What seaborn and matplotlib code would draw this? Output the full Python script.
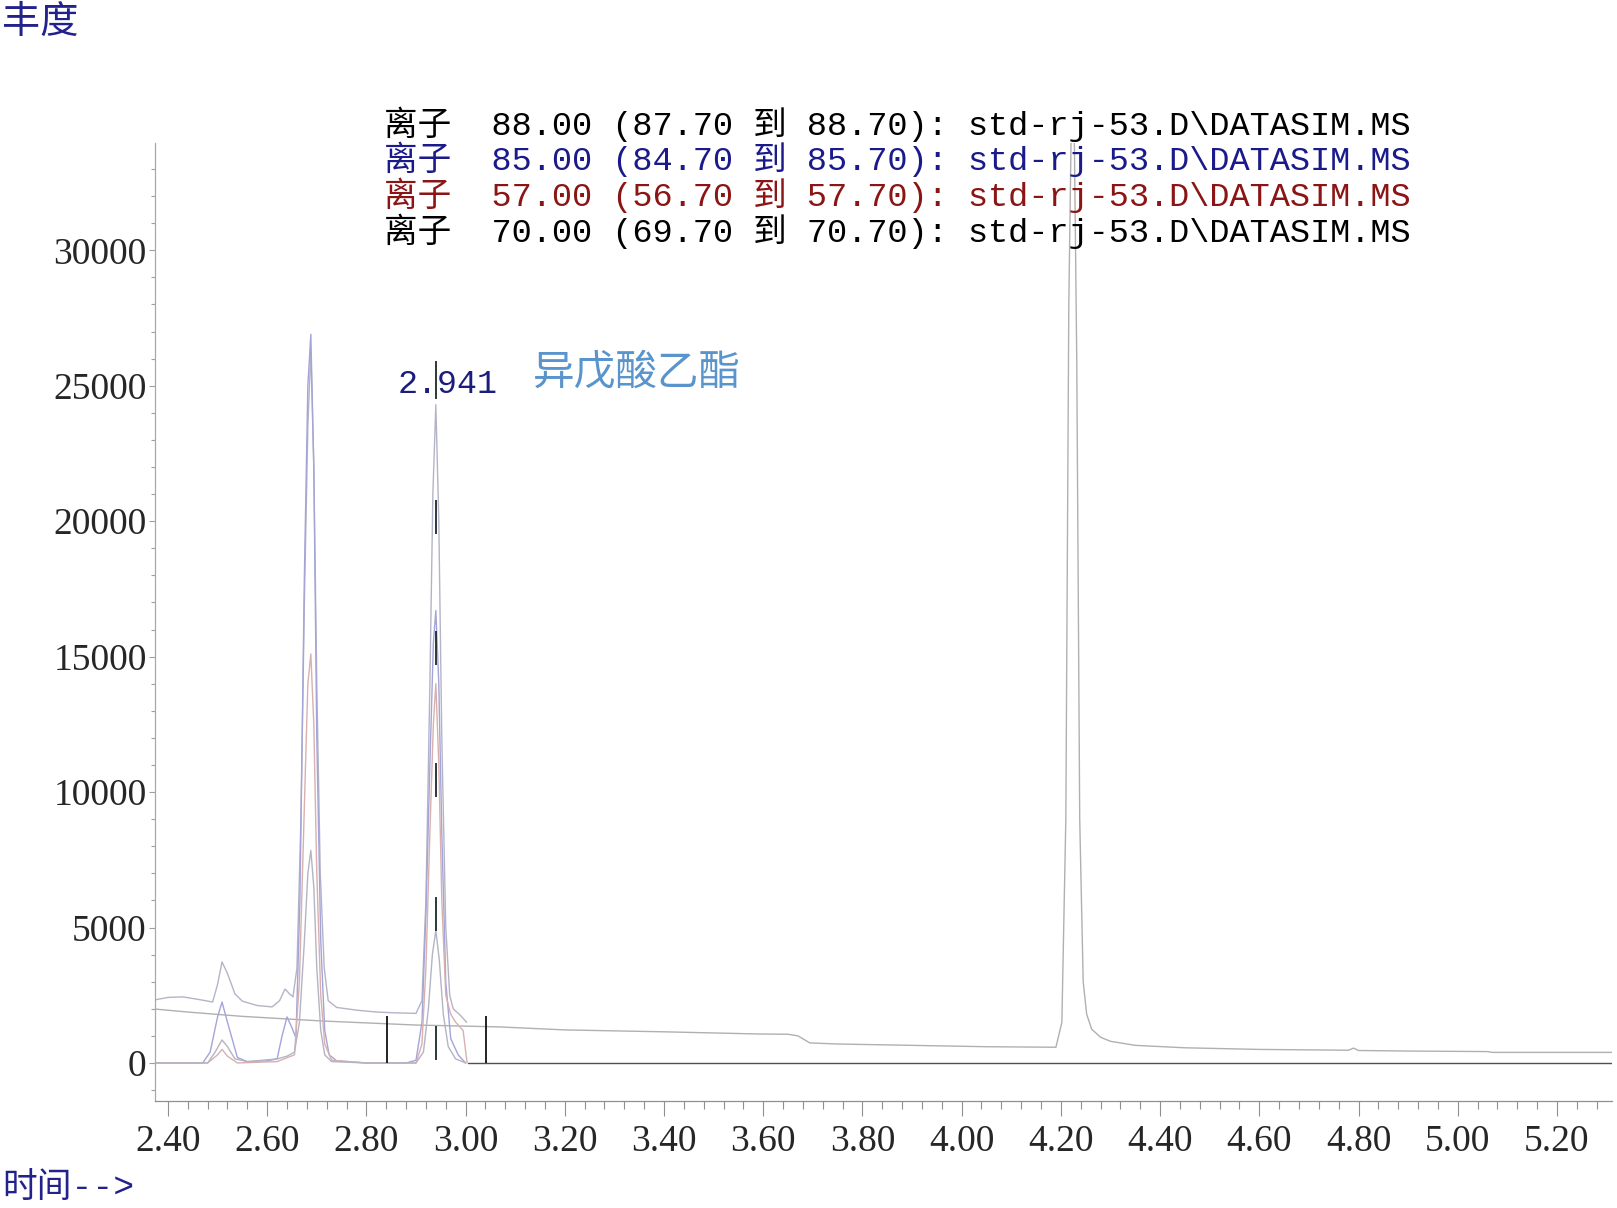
import numpy as np
import pandas as pd
import seaborn as sns
import matplotlib.pyplot as plt
from matplotlib.ticker import MultipleLocator, FormatStrFormatter

# retention time (min) / abundance keypoints
a_time = [2.374, 2.40, 2.43, 2.46, 2.49, 2.50, 2.509, 2.52, 2.535, 2.55, 2.58, 2.61, 2.625, 2.636,
          2.645, 2.652, 2.66, 2.668, 2.675, 2.682, 2.688, 2.694, 2.70, 2.707, 2.715, 2.723, 2.74,
          2.78, 2.82, 2.86, 2.90, 2.912, 2.92, 2.928, 2.934, 2.94, 2.946, 2.952, 2.96, 2.968, 2.975,
          2.99, 3.002]
a_abund = [2330, 2420, 2440, 2350, 2250, 2900, 3730, 3300, 2550, 2280, 2120, 2070, 2300, 2730,
           2550, 2440, 3500, 9000, 17000, 23500, 26300, 22000, 14000, 7000, 3500, 2300, 2050,
           1950, 1880, 1850, 1830, 2300, 6000, 14000, 21000, 24300, 20000, 12000, 5000, 2500, 2000,
           1750, 1500]

b_time = [2.374, 2.44, 2.55, 2.71, 2.90, 3.00, 3.07, 3.20, 3.40, 3.59, 3.65, 3.67, 3.694, 3.75,
          3.90, 4.05, 4.19, 4.202, 4.210, 4.216, 4.222, 4.226, 4.232, 4.238, 4.245, 4.252, 4.262,
          4.28, 4.30, 4.35, 4.45, 4.60, 4.78, 4.79, 4.80, 4.90, 5.06, 5.07, 5.311]
b_abund = [1990, 1880, 1720, 1550, 1400, 1360, 1330, 1220, 1150, 1070, 1060, 1000, 740, 700,
           650, 600, 580, 1500, 9000, 28000, 36000, 36000, 26000, 9000, 3000, 1800, 1250,
           950, 800, 650, 560, 500, 470, 550, 460, 440, 420, 390, 390]

c_time = [2.374, 2.47, 2.485, 2.50, 2.509, 2.52, 2.54, 2.56, 2.60, 2.62, 2.63, 2.64, 2.65, 2.658,
          2.666, 2.675, 2.682, 2.688, 2.694, 2.70, 2.708, 2.716, 2.725, 2.74, 2.80, 2.88, 2.90,
          2.912, 2.92, 2.928, 2.935, 2.94, 2.946, 2.952, 2.96, 2.97, 2.985, 3.0]
c_abund = [0, 0, 400, 1700, 2250, 1500, 200, 50, 80, 150, 1000, 1700, 1300, 920,
           6000, 18000, 25000, 26900, 22000, 12000, 4500, 1200, 300, 80, 0, 0, 100,
           1500, 5500, 11000, 15500, 16700, 14000, 8500, 3000, 900, 300, 0]

d_time = [2.374, 2.48, 2.50, 2.509, 2.52, 2.54, 2.62, 2.655, 2.665, 2.675, 2.682, 2.688, 2.694,
          2.70, 2.708, 2.716, 2.73, 2.80, 2.90, 2.912, 2.92, 2.928, 2.935, 2.94, 2.946, 2.952,
          2.96, 2.97, 2.98, 2.995, 3.003]
d_abund = [0, 0, 300, 500, 250, 0, 50, 300, 3000, 9500, 14000, 15100, 12500,
           7000, 2500, 700, 100, 0, 0, 700, 3500, 8500, 12500, 14000, 11000, 6000,
           2500, 1800, 1500, 1200, 0]

e_time = [2.374, 2.48, 2.495, 2.509, 2.52, 2.535, 2.56, 2.62, 2.64, 2.655, 2.665, 2.675, 2.682,
          2.688, 2.694, 2.70, 2.708, 2.716, 2.73, 2.80, 2.90, 2.915, 2.925, 2.933, 2.94, 2.947,
          2.955, 2.965, 2.98, 3.0]
e_abund = [0, 0, 400, 850, 600, 150, 50, 150, 250, 400, 1500, 4500, 7000,
           7850, 6500, 3500, 1200, 300, 50, 0, 0, 400, 2000, 4000, 4900, 3800,
           1800, 600, 150, 0]

f_time = [3.005, 5.311]
f_abund = [0, 0]

# integration / apex markers
marker_x = [2.841, 3.041]
marker_top = [1750, 1750]
apex_rt = 2.941
apex_segments = [(100, 1380), (4870, 6130), (9820, 11070), (14690, 15950), (19530, 20780), (24500, 25900)]

legend_lines = [
    "离子  88.00 (87.70 到 88.70): std-rj-53.D\\DATASIM.MS",
    "离子  85.00 (84.70 到 85.70): std-rj-53.D\\DATASIM.MS",
    "离子  57.00 (56.70 到 57.70): std-rj-53.D\\DATASIM.MS",
    "离子  70.00 (69.70 到 70.70): std-rj-53.D\\DATASIM.MS",
]
legend_colors = ["#000000", "#1a1a8a", "#8b1414", "#000000"]

traces = {"A": (a_time, a_abund), "B": (b_time, b_abund), "C": (c_time, c_abund),
          "D": (d_time, d_abund), "E": (e_time, e_abund), "F": (f_time, f_abund)}
palette = {"A": "#b4b4c8", "B": "#b0b0b0", "C": "#a4a4d8", "D": "#d8b0b0",
           "E": "#b4b4c4", "F": "#505050"}

df = pd.concat([pd.DataFrame({"time": t, "abund": y, "trace": k}) for k, (t, y) in traces.items()],
               ignore_index=True)

sns.set_theme(style="white")
cjk = ["Liberation Serif", "Noto Sans CJK SC", "DejaVu Sans"]
mono = ["Liberation Mono", "Noto Sans CJK SC", "DejaVu Sans"]
plt.rcParams["font.family"] = cjk

fig = plt.figure(figsize=(16.17, 12.08), dpi=100)
ax = fig.add_axes([0.0959, 0.0886, 0.9969 - 0.0959, 0.8816 - 0.0886])

sns.lineplot(data=df, x="time", y="abund", hue="trace", palette=palette, estimator=None,
             sort=False, legend=False, linewidth=1.0, ax=ax)

ax.vlines(marker_x, 0, marker_top, color="#111111", linewidth=1.3)
for lo, hi in apex_segments:
    ax.vlines(apex_rt, lo, hi, color="#1a2a2a", linewidth=1.3)

ax.set_xlim(2.374, 5.311)
ax.set_ylim(-1403, 33960)
ax.set_xlabel("")
ax.set_ylabel("")

ax.xaxis.set_major_locator(MultipleLocator(0.2))
ax.xaxis.set_minor_locator(MultipleLocator(0.04))
ax.xaxis.set_major_formatter(FormatStrFormatter("%.2f"))
ax.yaxis.set_major_locator(MultipleLocator(5000))
ax.yaxis.set_minor_locator(MultipleLocator(1000))
ax.yaxis.set_major_formatter(FormatStrFormatter("%d"))

ax.tick_params(axis="x", which="major", direction="out", length=11, width=0.8, color="#909090",
               labelsize=27, pad=6, bottom=True)
ax.tick_params(axis="x", which="minor", direction="out", length=5.5, width=0.8, color="#909090",
               bottom=True)
ax.tick_params(axis="y", which="major", direction="out", length=4.5, width=0.8, color="#a0a0a0",
               labelsize=27, pad=1.5, left=True)
ax.tick_params(axis="y", which="minor", direction="out", length=3, width=0.8, color="#a0a0a0",
               left=True)

for s in ["top", "right"]:
    ax.spines[s].set_visible(False)
ax.spines["left"].set_color("#a8a8a8")
ax.spines["bottom"].set_color("#909090")
ax.spines["left"].set_linewidth(0.9)
ax.spines["bottom"].set_linewidth(0.9)

for i, (txt, col) in enumerate(zip(legend_lines, legend_colors)):
    fig.text(384 / 1617, 1 - (124 + 35.6 * i) / 1208, txt, color=col, family=mono,
             fontsize=24.2, ha="left", va="center")

ax.text(2.862, 25030, "2.941", color="#1c1c7c", family=mono, fontsize=24, ha="left", va="center")
ax.text(3.136, 25450, "异戊酸乙酯", color="#5a94cc", family=["Noto Sans CJK SC"], fontsize=30,
        ha="left", va="center")

fig.text(2 / 1617, 1 - 23 / 1208, "丰度", color="#22228a", family=cjk, fontsize=27.5,
         ha="left", va="center")
fig.text(2 / 1617, 1 - 1188 / 1208, "时间-->", color="#22228a", family=mono, fontsize=25,
         ha="left", va="center")

fig.savefig("out.png", dpi=100)
